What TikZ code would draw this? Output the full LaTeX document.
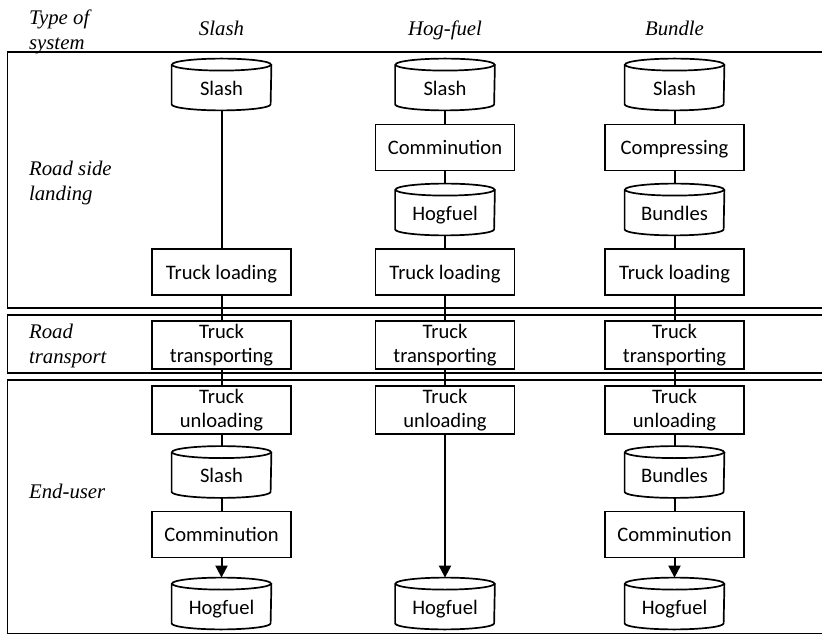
\documentclass[tikz,border=0pt]{standalone}
\usepackage{fontspec}
\setmainfont{Liberation Serif}
\newfontfamily\boxfont{Carlito}
\usetikzlibrary{arrows.meta}

\begin{document}
\begin{tikzpicture}[
  x=0.5pt, y=-0.5pt,
  proc/.style={draw, line width=0.85pt, minimum width=69.5pt, minimum height=23pt,
               inner sep=0pt, align=center, text height=15.15pt, text depth=7.85pt,
               font=\boxfont\fontsize{10.3}{12}\selectfont},
  proctwo/.style={proc, text height=20.75pt, text depth=3pt},
  store/.style={rectangle, minimum width=49.5pt, minimum height=25.5pt, inner sep=0pt,
                text height=10.6pt, text depth=0pt,
                font=\boxfont\fontsize{10.3}{12}\selectfont,
                append after command={\pgfextra{
                  \draw[line width=0.85pt]
                    ([yshift=-3pt]\tikzlastnode.north) ellipse [x radius=24.75pt, y radius=3pt]
                    ([yshift=-3pt]\tikzlastnode.north west) -- ([yshift=3pt]\tikzlastnode.south west)
                    arc [start angle=180, end angle=360, x radius=24.75pt, y radius=3pt]
                    -- ([yshift=-3pt]\tikzlastnode.north east);}}},
  lane/.style={line width=0.6pt},
  lbl/.style={anchor=west, align=left, font=\itshape\fontsize{10.4}{12.4}\selectfont},
  head/.style={text height=7pt, text depth=2pt, font=\itshape\fontsize{10.4}{12.4}\selectfont},
  link/.style={line width=1pt},
  flow/.style={link, -{Triangle[width=6pt, length=6pt]}}
]
\useasboundingbox (0,0) rectangle (822,635);

% lanes
\draw[lane] (822,52) -| (7.5,308) -- (822,308);
\draw[lane] (822,315) -| (7.5,373) -- (822,373);
\draw[lane] (822,380) -| (7.5,633.5) -- (822,633.5);

% row and column titles
\node[lbl] (type) at (22,32) {Type of\\system};
\node[lbl] (landing) at (22,183) {Road side\\landing};
\node[lbl] (road) at (22,346) {Road\\transport};
\node[lbl] (user) at (22,491) {End-user};
\node[head] (h-slash) at (221.5,31) {Slash};
\node[head] (h-hog) at (445,31) {Hog-fuel};
\node[head] (h-bundle) at (674.5,31) {Bundle};

% slash system
\node[store] (s-pile) at (221.5,84.5) {Slash};
\node[proc] (s-load) at (221.5,272) {Truck loading};
\node[proctwo] (s-trans) at (221.5,345) {Truck\\transporting};
\node[proctwo] (s-unload) at (221.5,410) {Truck\\unloading};
\node[store] (s-pile2) at (221.5,472) {Slash};
\node[proc] (s-comm) at (221.5,534.5) {Comminution};
\node[store] (s-fuel) at (221.5,603.5) {Hogfuel};

% hog-fuel system
\node[store] (h-pile) at (445,84.5) {Slash};
\node[proc] (h-comm) at (445,147.5) {Comminution};
\node[store] (h-fuel) at (445,209.5) {Hogfuel};
\node[proc] (h-load) at (445,272) {Truck loading};
\node[proctwo] (h-trans) at (445,345) {Truck\\transporting};
\node[proctwo] (h-unload) at (445,410) {Truck\\unloading};
\node[store] (h-fuel2) at (445,603.5) {Hogfuel};

% bundle system
\node[store] (b-pile) at (674.5,84.5) {Slash};
\node[proc] (b-press) at (674.5,147.5) {Compressing};
\node[store] (b-bund) at (674.5,209.5) {Bundles};
\node[proc] (b-load) at (674.5,272) {Truck loading};
\node[proctwo] (b-trans) at (674.5,345) {Truck\\transporting};
\node[proctwo] (b-unload) at (674.5,410) {Truck\\unloading};
\node[store] (b-bund2) at (674.5,472) {Bundles};
\node[proc] (b-comm) at (674.5,534.5) {Comminution};
\node[store] (b-fuel) at (674.5,603.5) {Hogfuel};

% edges
\draw[link] (s-pile) -- (s-load);
\draw[link] (s-load) -- (s-trans);
\draw[link] (s-trans) -- (s-unload);
\draw[link] (s-unload) -- (s-pile2);
\draw[link] (s-pile2) -- (s-comm);
\draw[flow] (s-comm) -- (s-fuel);

\draw[link] (h-pile) -- (h-comm);
\draw[link] (h-comm) -- (h-fuel);
\draw[link] (h-fuel) -- (h-load);
\draw[link] (h-load) -- (h-trans);
\draw[link] (h-trans) -- (h-unload);
\draw[flow] (h-unload) -- (h-fuel2);

\draw[link] (b-pile) -- (b-press);
\draw[link] (b-press) -- (b-bund);
\draw[link] (b-bund) -- (b-load);
\draw[link] (b-load) -- (b-trans);
\draw[link] (b-trans) -- (b-unload);
\draw[link] (b-unload) -- (b-bund2);
\draw[link] (b-bund2) -- (b-comm);
\draw[flow] (b-comm) -- (b-fuel);

\end{tikzpicture}
\end{document}
